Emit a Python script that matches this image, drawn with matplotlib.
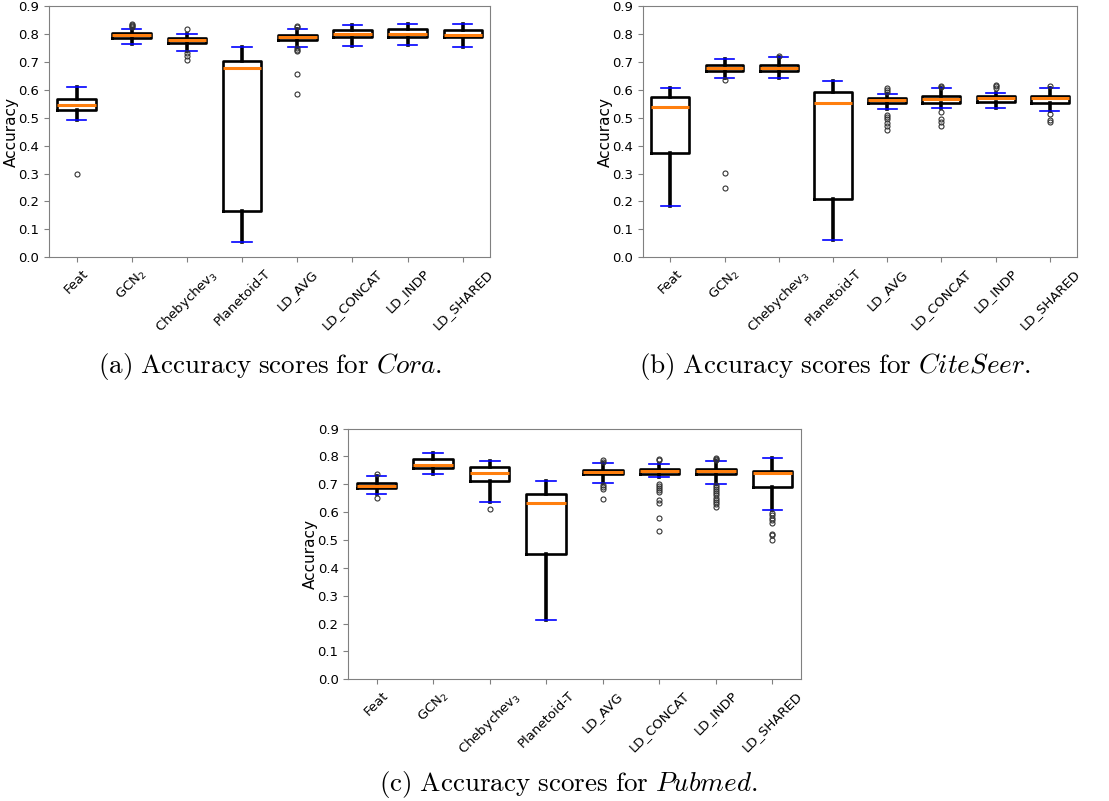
import matplotlib
matplotlib.use("Agg")
import matplotlib.pyplot as plt

# Model names shown on the x axis
methods = ["Feat", "GCN$_2$", "Chebychev$_3$", "Planetoid-T",
           "LD_AVG", "LD_CONCAT", "LD_INDP", "LD_SHARED"]

# Box statistics: (whislo, q1, med, q3, whishi)
cora_stats = [
    (0.491, 0.528, 0.545, 0.568, 0.610),
    (0.766, 0.787, 0.797, 0.805, 0.819),
    (0.741, 0.768, 0.779, 0.787, 0.800),
    (0.053, 0.164, 0.678, 0.705, 0.755),
    (0.754, 0.779, 0.789, 0.798, 0.819),
    (0.757, 0.789, 0.800, 0.814, 0.833),
    (0.761, 0.789, 0.800, 0.819, 0.838),
    (0.753, 0.789, 0.798, 0.816, 0.837),
]
cora_fliers = [
    [0.299],
    [0.826, 0.830, 0.834, 0.838],
    [0.818, 0.733, 0.723, 0.709],
    [],
    [0.829, 0.825, 0.752, 0.745, 0.740, 0.657, 0.587],
    [],
    [],
    [],
]

citeseer_stats = [
    (0.182, 0.373, 0.540, 0.576, 0.606),
    (0.643, 0.668, 0.678, 0.688, 0.710),
    (0.644, 0.668, 0.680, 0.688, 0.717),
    (0.063, 0.209, 0.552, 0.594, 0.632),
    (0.531, 0.552, 0.563, 0.570, 0.586),
    (0.534, 0.555, 0.568, 0.577, 0.606),
    (0.534, 0.558, 0.570, 0.578, 0.589),
    (0.523, 0.555, 0.571, 0.578, 0.607),
]
citeseer_fliers = [
    [],
    [0.635, 0.302, 0.249],
    [0.722],
    [],
    [0.608, 0.601, 0.594, 0.509, 0.503, 0.496, 0.483, 0.470, 0.458],
    [0.614, 0.611, 0.522, 0.497, 0.484, 0.471],
    [0.618, 0.613, 0.606],
    [0.614, 0.515, 0.491, 0.484],
]

pubmed_stats = [
    (0.665, 0.686, 0.695, 0.706, 0.729),
    (0.736, 0.760, 0.768, 0.791, 0.813),
    (0.637, 0.710, 0.742, 0.762, 0.785),
    (0.211, 0.449, 0.634, 0.664, 0.712),
    (0.706, 0.735, 0.743, 0.750, 0.775),
    (0.725, 0.735, 0.746, 0.754, 0.773),
    (0.702, 0.735, 0.746, 0.754, 0.783),
    (0.606, 0.691, 0.740, 0.748, 0.793),
]
pubmed_fliers = [
    [0.736, 0.651],
    [],
    [0.610],
    [],
    [0.786, 0.780, 0.697, 0.691, 0.682, 0.646],
    [0.792, 0.786, 0.700, 0.693, 0.687, 0.679, 0.673, 0.645, 0.631, 0.580, 0.531],
    [0.796, 0.790, 0.786, 0.697, 0.690, 0.682, 0.675, 0.668, 0.660, 0.652,
     0.645, 0.637, 0.630, 0.617],
    [0.595, 0.589, 0.580, 0.571, 0.561, 0.523, 0.517, 0.499],
]

captions = [
    r"$\mathrm{(a)\ Accuracy\ scores\ for\ }\mathit{Cora}\mathrm{.}$",
    r"$\mathrm{(b)\ Accuracy\ scores\ for\ }\mathit{CiteSeer}\mathrm{.}$",
    r"$\mathrm{(c)\ Accuracy\ scores\ for\ }\mathit{Pubmed}\mathrm{.}$",
]

FIG_W = 1109


def draw_panel(ax, stats, fliers):
    bxp_stats = []
    for (lo, q1, med, q3, hi), fl in zip(stats, fliers):
        bxp_stats.append(dict(whislo=lo, q1=q1, med=med, q3=q3, whishi=hi, fliers=fl))
    ax.bxp(bxp_stats, widths=0.7, patch_artist=False,
           boxprops=dict(color="black", linewidth=1.9),
           whiskerprops=dict(color="black", linewidth=2.6),
           capprops=dict(color="blue", linewidth=1.2),
           medianprops=dict(color="#ff7f0e", linewidth=2.2),
           flierprops=dict(marker="o", markersize=3.6, markerfacecolor="none",
                           markeredgecolor="#333333", markeredgewidth=0.8))
    ax.set_ylim(0.0, 0.9)
    ax.set_yticks([i / 10 for i in range(10)])
    ax.set_yticklabels(["%.1f" % (i / 10) for i in range(10)], fontsize=9.5)
    ax.set_xticks(range(1, len(methods) + 1))
    ax.set_xticklabels(methods, rotation=45, fontsize=9.5)
    ax.set_ylabel("Accuracy", fontsize=11)
    # right edge of the label sits about 30 px left of the spine
    width_px = ax.get_position().width * FIG_W
    ax.yaxis.set_label_coords(-30 / width_px, 0.5)
    for sp in ax.spines.values():
        sp.set_color("#808080")
    ax.tick_params(color="#808080", length=3.5)


fig = plt.figure(figsize=(11.09, 8.01), dpi=100)
ax_a = fig.add_axes([0.0442, 0.679, 0.398, 0.313])
ax_b = fig.add_axes([0.580, 0.679, 0.391, 0.313])
ax_c = fig.add_axes([0.314, 0.152, 0.408, 0.313])

draw_panel(ax_a, cora_stats, cora_fliers)
draw_panel(ax_b, citeseer_stats, citeseer_fliers)
draw_panel(ax_c, pubmed_stats, pubmed_fliers)

# Captions under each panel
fig.text(270 / 1109, 1 - 366 / 801, captions[0], ha="center", va="center",
         fontsize=19.5, math_fontfamily="cm")
fig.text(835 / 1109, 1 - 366 / 801, captions[1], ha="center", va="center",
         fontsize=19.5, math_fontfamily="cm")
fig.text(568 / 1109, 1 - 784 / 801, captions[2], ha="center", va="center",
         fontsize=19.5, math_fontfamily="cm")

fig.savefig("out.png", dpi=100)
